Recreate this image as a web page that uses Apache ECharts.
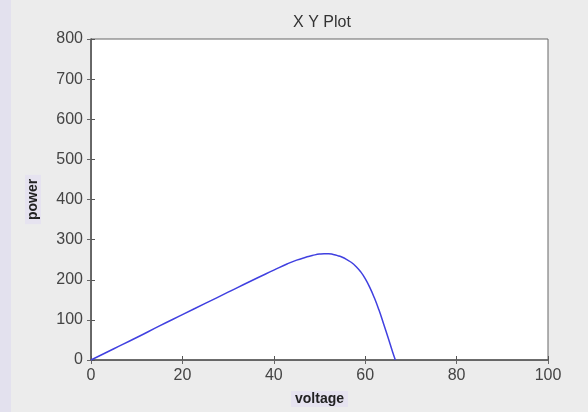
<!DOCTYPE html>
<html>
<head>
<meta charset="utf-8">
<script src="https://cdn.jsdelivr.net/npm/echarts@6/dist/echarts.min.js"></script>
<style>
  html, body { margin: 0; padding: 0; background: #ececec; }
  #chartmain { width: 588px; height: 412px; }
</style>
</head>
<body>
<div id="chartmain"></div>
<script>
// curve
var voltage = [0, 5, 10, 15, 20, 25, 30, 35, 40, 43, 45, 47, 48, 49, 50, 51, 52, 53, 54, 55, 56, 57, 58, 59, 60, 61, 62, 63, 64, 65, 66, 66.6];
var power = [0, 28, 56, 85, 113, 141, 169, 197, 224, 240, 249, 256, 259, 262, 264, 265, 265, 263, 260, 256, 250, 243, 233, 220, 203, 181, 155, 125, 91, 56, 20, 0];
var xTicks = [0, 20, 40, 60, 80, 100];
var yTicks = [0, 100, 200, 300, 400, 500, 600, 700, 800];

var points = [];
for (var i = 0; i < voltage.length; i++) {
    points.push([voltage[i], power[i]]);
}

var myChart = echarts.init(document.getElementById('chartmain'));
var labelFont = {color: '#444', fontSize: 16, fontFamily: 'Arial, Liberation Sans, sans-serif'};
var option = {
    backgroundColor: '#ececec',
    animation: false,
    graphic: [{
        type: 'rect',
        shape: {x: 0, y: 0, width: 11, height: 412},
        style: {fill: '#e3e1ee'}
    }],
    title: {
        text: 'X Y Plot',
        left: 317,
        top: 10,
        textAlign: 'center',
        textStyle: {fontSize: 16, fontWeight: 'normal', color: '#333', fontFamily: 'Arial, Liberation Sans, sans-serif'}
    },
    grid: {
        left: 91, right: 40, top: 39, bottom: 51,
        show: true,
        backgroundColor: '#ffffff',
        borderColor: '#666',
        borderWidth: 1
    },
    xAxis: [{
        type: 'value',
        min: 0, max: 100, interval: 20,
        name: 'voltage',
        nameLocation: 'middle',
        nameGap: 31,
        nameTextStyle: {fontSize: 14, fontWeight: 'bold', color: '#222', backgroundColor: '#e6e3f0', padding: [1, 4]},
        axisLine: {show: true, lineStyle: {color: '#555', width: 1.5}},
        axisTick: {inside: true, length: 4, lineStyle: {color: '#555'}},
        axisLabel: Object.assign({margin: 8, formatter: function (v) { return xTicks.indexOf(v) >= 0 ? v : ''; }}, labelFont),
        splitLine: {show: false}
    }, {
        type: 'value',
        position: 'top',
        min: 0, max: 100, interval: 20,
        axisLine: {show: true, lineStyle: {color: '#666'}},
        axisTick: {inside: true, length: 4, lineStyle: {color: '#666'}},
        axisLabel: {show: false},
        splitLine: {show: false}
    }],
    yAxis: [{
        type: 'value',
        min: 0, max: 800, interval: 100,
        name: 'power',
        nameLocation: 'middle',
        nameGap: 50,
        nameTextStyle: {fontSize: 14, fontWeight: 'bold', color: '#222', backgroundColor: '#e6e3f0', padding: [1, 4]},
        axisLine: {show: true, lineStyle: {color: '#555', width: 1.5}},
        axisTick: {inside: true, length: 4, lineStyle: {color: '#555'}},
        axisLabel: Object.assign({margin: 8, formatter: function (v) { return yTicks.indexOf(v) >= 0 ? v : ''; }}, labelFont),
        splitLine: {show: false}
    }, {
        type: 'value',
        position: 'right',
        min: 0, max: 800, interval: 100,
        axisLine: {show: true, lineStyle: {color: '#666'}},
        axisTick: {inside: true, length: 4, lineStyle: {color: '#666'}},
        axisLabel: {show: false},
        splitLine: {show: false}
    }],
    series: [{
        name: 'power',
        type: 'line',
        smooth: true,
        showSymbol: false,
        data: points,
        lineStyle: {color: '#4040e0', width: 1.5}
    }]
};
myChart.setOption(option);
</script>
</body>
</html>
